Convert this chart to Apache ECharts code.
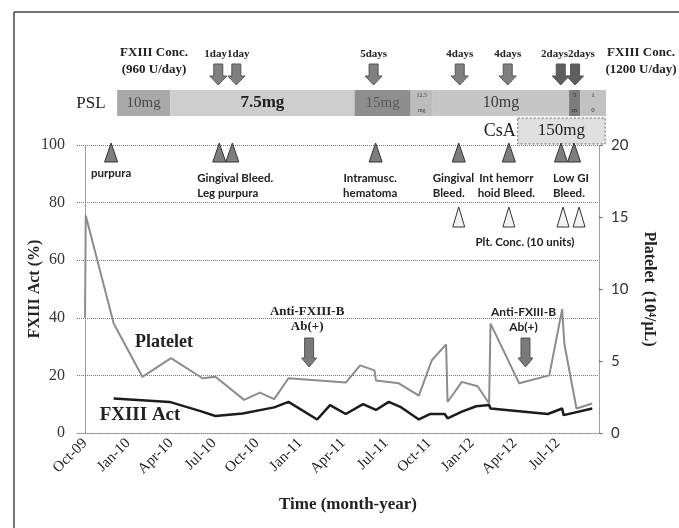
<!DOCTYPE html>
<html>
<head>
<meta charset="utf-8">
<script src="https://cdn.jsdelivr.net/npm/echarts@6/dist/echarts.min.js"></script>
<style>
  html, body { margin: 0; padding: 0; background: #fff; }
  #main { width: 679px; height: 528px; }
</style>
</head>
<body>
<div id="main"></div>
<script>
// x values are months counted from Oct-09 (= 0)
const tickMonths = [0, 3, 6, 9, 12, 15, 18, 21, 24, 27, 30, 33];
const tickLabels = ['Oct-09', 'Jan-10', 'Apr-10', 'Jul-10', 'Oct-10', 'Jan-11',
                    'Apr-11', 'Jul-11', 'Oct-11', 'Jan-12', 'Apr-12', 'Jul-12'];

// Platelet (10^4/uL), right axis
const plateletMonths = [0, 0.05, 2, 4, 6, 8.2, 9.1, 11.1, 12.2, 13.2, 14.2, 18.2, 19.2, 20.2, 20.3,
                        21.9, 23.3, 24.2, 25.2, 25.3, 26.3, 27.4, 28.2, 28.3, 30.3, 32.4, 33.3, 33.45, 34.3, 35.4];
const plateletValues = [8.0, 15.1, 7.6, 3.9, 5.2, 3.8, 3.9, 2.3, 2.8, 2.35, 3.8, 3.5, 4.7, 4.35, 3.65,
                        3.45, 2.6, 5.05, 6.15, 2.15, 3.55, 3.25, 2.05, 7.6, 3.45, 4.0, 8.6, 6.2, 1.7, 2.05];

// FXIII activity (%), left axis
const fxiiiMonths = [2, 5.9, 8.0, 9.1, 11.0, 13.2, 14.2, 16.2, 17.1, 18.2, 19.4, 20.3, 21.2, 22.0,
                     23.3, 24.1, 25.1, 25.3, 26.3, 27.3, 28.2, 28.3, 32.3, 33.3, 33.4, 35.4];
const fxiiiValues = [12.0, 10.8, 7.7, 5.9, 6.8, 8.9, 10.8, 4.7, 9.7, 6.6, 10.0, 8.0, 10.8, 9.1,
                     4.7, 6.6, 6.6, 5.1, 7.4, 9.3, 9.7, 8.5, 6.6, 8.5, 6.2, 8.5];

// FXIII concentrate infusions (arrows) and their labels
const fxConcMonths = [9.3, 10.56, 20.14, 26.15, 29.5, 33.2, 34.2];
const fxConcLabels = [{ m: 9.9, text: '1day1day' }, { m: 20.14, text: '5days' }, { m: 26.15, text: '4days' },
                      { m: 29.5, text: '4days' }, { m: 33.7, text: '2days2days' }];

// bleeding events (filled triangles)
const bleedMonths = [1.82, 9.37, 10.28, 20.28, 26.08, 29.58, 33.22, 34.13];
const bleedLabels = [
  { m: 1.82, lines: ['purpura'], align: 'center' },
  { m: 7.83, lines: ['Gingival Bleed.', 'Leg purpura'], align: 'left' },
  { m: 19.9, lines: ['Intramusc.', 'hematoma'], align: 'center' },
  { m: 24.27, lines: ['Gingival', 'Bleed.'], align: 'left' },
  { m: 29.4, lines: ['Int hemorr', 'hoid Bleed.'], align: 'center' },
  { m: 32.66, lines: ['Low GI', 'Bleed.'], align: 'left' }
];

// platelet concentrate (open triangles)
const pltConcMonths = [26.08, 29.58, 33.36, 34.48];

// prednisolone doses
const pslStart = [2.24, 5.94, 18.81, 22.73, 24.27, 33.78, 34.55];
const pslEnd   = [5.94, 18.81, 22.73, 24.27, 33.78, 34.55, 36.36];
const pslDose  = ['10mg', '7.5mg', '15mg', '12.5\nmg', '10mg', '5\nm', '1\n0'];

// cyclosporin
const csaStart = 30.2, csaEnd = 36.3, csaDose = '150mg';

// anti-FXIII-B antibody positive
const antibodyMonths = [15.5, 30.6];

const serif = '"Liberation Serif", "Times New Roman", serif';
const sans = 'Lato, "Open Sans", sans-serif';

const chart = echarts.init(document.getElementById('main'));

chart.setOption({
  animation: false,
  grid: { left: 77, right: 80, top: 145, bottom: 95 },
  xAxis: {
    type: 'value',
    min: -0.56,
    max: 35.87,
    axisLine: { lineStyle: { color: '#8a8a8a', type: 'dotted', width: 1 } },
    axisTick: { show: false },
    splitLine: { show: false },
    axisLabel: {
      customValues: tickMonths,
      rotate: 45,
      margin: 8,
      fontFamily: serif,
      fontSize: 15,
      color: '#222',
      formatter: function (v) {
        const i = tickMonths.indexOf(v);
        return i >= 0 ? tickLabels[i] : '';
      }
    }
  },
  yAxis: [
    {
      type: 'value', min: 0, max: 100, interval: 20, position: 'left',
      name: 'FXIII Act (%)', nameLocation: 'middle', nameRotate: 90, nameGap: 34,
      nameMoveOverlap: false,
      nameTextStyle: { fontFamily: serif, fontWeight: 'bold', fontSize: 16, color: '#222' },
      axisLine: { show: true, lineStyle: { color: '#8a8a8a', type: 'dotted' } },
      axisTick: { show: false },
      axisLabel: { fontFamily: serif, fontSize: 16, color: '#333', margin: 12 },
      splitLine: { lineStyle: { color: '#777', type: 'dotted' } }
    },
    {
      type: 'value', min: 0, max: 20, interval: 5, position: 'right',
      name: 'Platelet  (10\u2074/\u03bcL)', nameLocation: 'middle', nameRotate: -90, nameGap: 42,
      nameMoveOverlap: false,
      nameTextStyle: { fontFamily: serif, fontWeight: 'bold', fontSize: 16, color: '#222' },
      axisLine: { show: true, lineStyle: { color: '#8a8a8a', type: 'dotted' } },
      axisTick: { show: true, length: 4, lineStyle: { color: '#777' } },
      axisLabel: { fontFamily: sans, fontSize: 15, color: '#333', margin: 12 },
      splitLine: { show: false }
    }
  ],
  series: [
    {
      name: 'Platelet', type: 'line', yAxisIndex: 1, symbol: 'none',
      lineStyle: { color: '#8c8c8c', width: 2 },
      data: plateletMonths.map((m, i) => [m, plateletValues[i]])
    },
    {
      name: 'FXIII Act', type: 'line', yAxisIndex: 0, symbol: 'none',
      lineStyle: { color: '#1c1c1c', width: 2.5 },
      data: fxiiiMonths.map((m, i) => [m, fxiiiValues[i]])
    }
  ]
});

const xp = m => chart.convertToPixel({ xAxisIndex: 0 }, m);

function txt(x, y, text, font, align, fill) {
  return { type: 'text', x: x, y: y, z: 10,
    style: { text: text, font: font, fill: fill || '#222', align: align || 'center', verticalAlign: 'middle', lineHeight: 15 } };
}
function tri(x, yTop, yBot, w, fill) {
  return { type: 'polygon', z: 10,
    shape: { points: [[x, yTop], [x - w / 2, yBot], [x + w / 2, yBot]] },
    style: { fill: fill, stroke: '#333', lineWidth: 1 } };
}
function downArrow(x, yTop, yBot, shaftW, headW, headH, fill) {
  return { type: 'polygon', z: 10,
    shape: { points: [[x - shaftW / 2, yTop], [x + shaftW / 2, yTop], [x + shaftW / 2, yBot - headH],
                      [x + headW / 2, yBot - headH], [x, yBot], [x - headW / 2, yBot - headH], [x - shaftW / 2, yBot - headH]] },
    style: { fill: fill, stroke: '#555', lineWidth: 1 } };
}

const g = [];
// outer frame
g.push({ type: 'line', shape: { x1: 14, y1: 12, x2: 679, y2: 12 }, style: { stroke: '#444', lineWidth: 1.5 } });
g.push({ type: 'line', shape: { x1: 14, y1: 12, x2: 14, y2: 528 }, style: { stroke: '#444', lineWidth: 1.5 } });

// FXIII concentrate
g.push(txt(154, 53, 'FXIII Conc.', 'bold 13px ' + serif));
g.push(txt(154, 70, '(960 U/day)', 'bold 13px ' + serif));
g.push(txt(641, 53, 'FXIII Conc.', 'bold 13px ' + serif));
g.push(txt(641, 70, '(1200 U/day)', 'bold 13px ' + serif));
fxConcLabels.forEach(l => g.push(txt(xp(l.m), 54, l.text, 'bold 11px ' + serif)));
fxConcMonths.forEach((m, i) => g.push(downArrow(xp(m), 64, 85, 9, 17, 9, i >= 5 ? '#5e5e5e' : '#808080')));

// PSL bar
const pslFill = ['#a9a9a9', '#cdcdcd', '#8e8e8e', '#bcbcbc', '#c6c6c6', '#7c7c7c', '#c2c2c2'];
const pslFont = ['15px ', 'bold 17px ', '15px ', '6px ', '16px ', '7px ', '7px '];
const pslText = ['#4a4a4a', '#1e1e1e', '#5a5a5a', '#444', '#3a3a3a', '#333', '#333'];
g.push(txt(91, 104, 'PSL', '17px ' + serif));
pslStart.forEach((s, i) => {
  const x1 = xp(s), x2 = xp(pslEnd[i]);
  g.push({ type: 'rect', z: 5, shape: { x: x1, y: 90, width: x2 - x1, height: 26 }, style: { fill: pslFill[i] } });
  g.push(txt((x1 + x2) / 2, 103, pslDose[i], pslFont[i] + serif, 'center', pslText[i]));
});

// CsA
const cx1 = xp(csaStart), cx2 = xp(csaEnd);
g.push({ type: 'rect', z: 5, shape: { x: cx1, y: 118, width: cx2 - cx1, height: 26 },
  style: { fill: '#e0e0e0', stroke: '#666', lineWidth: 1, lineDash: [2, 2] } });
g.push(txt(cx1 - 2, 131, 'CsA', '18px ' + serif, 'right'));
g.push(txt((cx1 + cx2) / 2, 131, csaDose, '17px ' + serif));

// bleeding events
bleedMonths.forEach(m => g.push(tri(xp(m), 143, 162, 13, '#7e7e7e')));
bleedLabels.forEach(l => {
  const y0 = l.lines.length === 1 ? 173 : 178;
  l.lines.forEach((t, j) => g.push(txt(xp(l.m), y0 + j * 15, t, 'bold 11.5px ' + sans, l.align)));
});

// platelet concentrate
pltConcMonths.forEach(m => g.push(tri(xp(m), 207, 227, 12, '#f2f2f2')));
g.push(txt(xp(30.7), 242, 'Plt. Conc. (10 units)', 'bold 11.5px ' + sans));

// anti-FXIII-B antibody
g.push(txt(xp(antibodyMonths[0]), 312, 'Anti-FXIII-B', 'bold 13px ' + serif));
g.push(txt(xp(antibodyMonths[0]), 327, 'Ab(+)', 'bold 13px ' + serif));
g.push(txt(xp(antibodyMonths[1]), 312, 'Anti-FXIII-B', 'bold 12px ' + sans));
g.push(txt(xp(antibodyMonths[1]), 327, 'Ab(+)', 'bold 12px ' + sans));
antibodyMonths.forEach(m => g.push(downArrow(xp(m) + 2, 338, 367, 9, 15, 9, '#7a7a7a')));

// series labels
g.push(txt(164, 342, 'Platelet', 'bold 18px ' + serif));
g.push(txt(140, 415, 'FXIII Act', 'bold 19px ' + serif));

// x axis title
g.push(txt(348, 505, 'Time (month-year)', 'bold 17px ' + serif));

chart.setOption({ graphic: g });
</script>
</body>
</html>
